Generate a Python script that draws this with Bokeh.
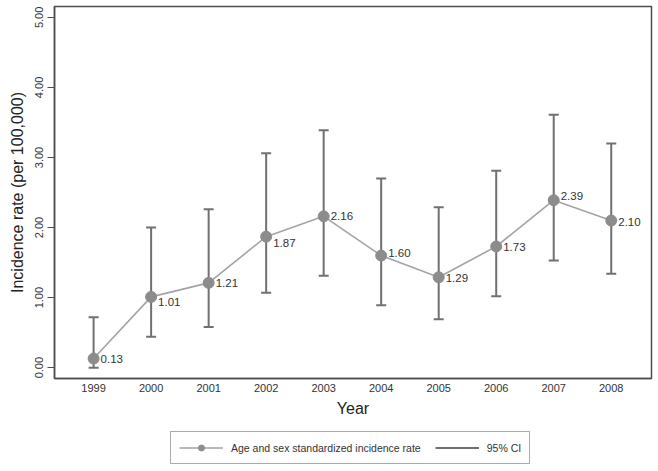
from bokeh.plotting import figure
from bokeh.layouts import column
from bokeh.models import (Range1d, FixedTicker, PrintfTickFormatter, Legend, LegendItem,
                          ColumnDataSource)
from bokeh.core.properties import value
from bokeh.embed import file_html
from bokeh.resources import INLINE

years = [1999, 2000, 2001, 2002, 2003, 2004, 2005, 2006, 2007, 2008]
rate = [0.13, 1.01, 1.21, 1.87, 2.16, 1.60, 1.29, 1.73, 2.39, 2.10]
ci_lower = [0.00, 0.44, 0.58, 1.07, 1.31, 0.89, 0.69, 1.02, 1.53, 1.34]
ci_upper = [0.72, 2.00, 2.26, 3.06, 3.39, 2.70, 2.29, 2.81, 3.61, 3.20]
rate_labels = ["%.2f" % v for v in rate]
y_ticks = [0, 1, 2, 3, 4, 5]

# label placement (screen px, positive = down)
label_dy = [0, 5, 0, 6, 0, -3, 1, 1, -4, 1]

FONT = "Liberation Sans"
LINE_C = "#a3a3a3"
MARK_C = "#8c8c8c"
CI_C = "#707070"
src = ColumnDataSource(dict(x=years, y=rate, lo=ci_lower, hi=ci_upper,
                            lab=rate_labels, dy=label_dy))

p = figure(width=658, height=425, output_backend="svg", toolbar_location=None,
           x_range=Range1d(1998.32, 2008.70), y_range=Range1d(-0.155, 5.155),
           min_border_left=54, min_border_right=7, min_border_top=6, min_border_bottom=47)

p.background_fill_color = "white"
p.border_fill_color = "white"
p.outline_line_color = "#4d4d4d"
p.outline_line_width = 1.5
p.xgrid.visible = False
p.ygrid.visible = False

# axes
p.xaxis.ticker = FixedTicker(ticks=years)
p.yaxis.ticker = FixedTicker(ticks=y_ticks)
p.yaxis.formatter = PrintfTickFormatter(format="%.2f")
for ax in (p.xaxis[0], p.yaxis[0]):
    ax.axis_line_color = "#4d4d4d"
    ax.axis_line_width = 1.5
    ax.major_label_text_font = FONT
    ax.major_label_text_font_size = "11px"
    ax.major_label_text_color = "#333333"
    ax.axis_label_text_font = FONT
    ax.axis_label_text_font_size = "16px"
    ax.axis_label_text_font_style = "normal"
    ax.axis_label_text_color = "#222222"
    ax.minor_tick_line_color = None
p.xaxis.major_tick_line_color = None
p.xaxis.major_tick_out = 0
p.xaxis.major_label_standoff = 5
p.xaxis.axis_label = "Year"
p.xaxis.axis_label_standoff = 5
p.yaxis.major_tick_line_color = "#4d4d4d"
p.yaxis.major_tick_line_width = 1.2
p.yaxis.major_tick_out = 7
p.yaxis.major_tick_in = 0
p.yaxis.major_label_orientation = "vertical"
p.yaxis.major_label_standoff = 4
p.yaxis.axis_label = "Incidence rate (per 100,000)"
p.yaxis.axis_label_standoff = 7


def draw(fig):
    ln = fig.line("x", "y", source=src, line_color=LINE_C, line_width=1.6)
    seg = fig.segment(x0="x", y0="lo", x1="x", y1="hi", source=src,
                      line_color=CI_C, line_width=2)
    fig.scatter("x", "hi", source=src, marker="dash", size=10,
                line_color=CI_C, line_width=2)
    fig.scatter("x", "lo", source=src, marker="dash", size=10,
                line_color=CI_C, line_width=2)
    pts = fig.scatter("x", "y", source=src, marker="circle", size=11,
                      fill_color=MARK_C, line_color=MARK_C)
    return ln, seg, pts


draw(p)
p.text("x", "y", text="lab", source=src, x_offset=7, y_offset="dy",
       text_font=value(FONT), text_font_size="11.5px", text_color="#333333",
       text_baseline="middle", text_align="left")

# legend strip below the chart (same series, its ranges keep the marks out of view)
lg = figure(width=658, height=46, output_backend="svg", toolbar_location=None,
            x_axis_type=None, y_axis_type=None,
            x_range=Range1d(0, 1), y_range=Range1d(0, 1),
            min_border_left=0, min_border_right=0, min_border_top=0, min_border_bottom=0)
lg.outline_line_color = None
lg.xgrid.visible = False
lg.ygrid.visible = False
ln2, seg2, pts2 = draw(lg)

legend = Legend(items=[
    LegendItem(label="Age and sex standardized incidence rate", renderers=[ln2, pts2]),
    LegendItem(label="95% CI", renderers=[seg2]),
], orientation="horizontal", location=(116, 7))
legend.label_text_font = FONT
legend.label_text_font_size = "10.5px"
legend.label_text_color = "#333333"
legend.glyph_width = 44
legend.glyph_height = 15
legend.label_standoff = 8
legend.spacing = 14
legend.padding = 8
legend.margin = 0
legend.border_line_color = "#555555"
legend.border_line_width = 1.2
legend.background_fill_color = "white"
lg.add_layout(legend)

layout = column(p, lg, spacing=0)
open("out.html", "w").write(file_html(layout, INLINE))
